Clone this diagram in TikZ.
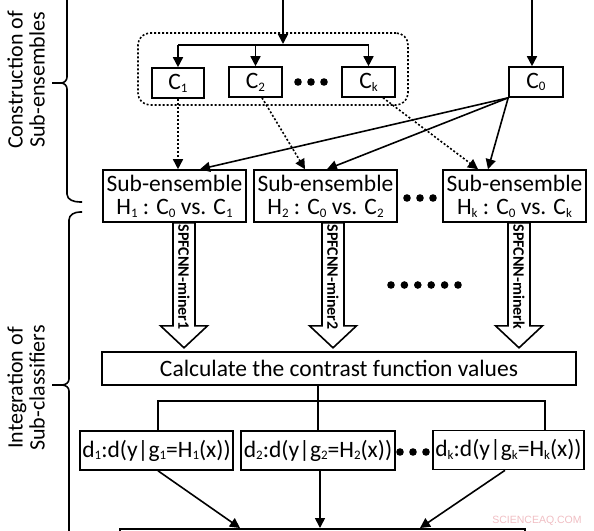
\documentclass[tikz,border=0pt]{standalone}
\usepackage{fontspec}
\setmainfont{Carlito}
\newfontfamily\wmfont{Liberation Sans}
\usetikzlibrary{arrows.meta,calc}
\newcommand\sbs[1]{\raisebox{-0.12em}{\fontsize{13}{13}\selectfont #1}}
\definecolor{wmpink}{RGB}{240,190,195}
\begin{document}
\begin{tikzpicture}[x=1pt,y=-1pt,
  box/.style={draw,line width=1.6pt,inner sep=0pt,font=\fontsize{23.5}{23}\selectfont,align=center},
  conn/.style={line width=1.6pt},
  arr/.style={conn,-{Triangle[length=10pt,width=10pt]}},
  dotarr/.style={arr,dash pattern=on 2pt off 2pt},
  blk/.style={draw,line width=1.6pt,fill=white,line join=miter},
  lbl/.style={font=\fontsize{22}{22}\selectfont,align=center,rotate=90},
  mlbl/.style={font=\fontsize{16}{16}\selectfont\bfseries,rotate=-90,inner sep=0pt},
  brace/.style={line width=1.6pt,line join=round},
  dot/.style={fill=black}]
\useasboundingbox (0,0) rectangle (594,530);

% group of C boxes
\node[draw,line width=1.6pt,dash pattern=on 2pt off 2pt,rounded corners=12pt,minimum width=270pt,minimum height=72pt] (grp) at (273,69) {};
\node[box,minimum width=52pt,minimum height=30pt] (C1) at (178,83) {C\sbs{1}};
\node[box,minimum width=53pt,minimum height=30pt] (C2) at (255.5,82) {C\sbs{2}};
\node[box,minimum width=53pt,minimum height=30pt] (Ck) at (368.5,82) {C\sbs{k}};
\node[box,minimum width=54pt,minimum height=30pt] (C0) at (536,82) {C\sbs{0}};

\coordinate (in1) at (283,-2);
\coordinate (split) at (283,45);
\coordinate (in0) at (532,-2);

% sub-ensembles
\node[box,minimum width=143pt,minimum height=52pt] (H1) at (174.5,196) {Sub-ensemble\\H\sbs{1} : C\sbs{0} vs. C\sbs{1}};
\node[box,minimum width=143pt,minimum height=52pt] (H2) at (325.5,196) {Sub-ensemble\\H\sbs{2} : C\sbs{0} vs. C\sbs{2}};
\node[box,minimum width=143pt,minimum height=52pt] (H3) at (514.5,196) {Sub-ensemble\\H\sbs{k} : C\sbs{0} vs. C\sbs{k}};

% contrast box
\node[box,minimum width=474pt,minimum height=33pt] (calc) at (339,368.5) {Calculate the contrast function values};

% d boxes
\node[box,minimum width=153pt,minimum height=39pt] (d1) at (156.5,450.5) {d\sbs{1}:d(y|g\sbs{1}=H\sbs{1}(x))};
\node[box,minimum width=154pt,minimum height=39pt] (d2) at (318,450.5) {d\sbs{2}:d(y|g\sbs{2}=H\sbs{2}(x))};
\node[box,minimum width=151pt,minimum height=39pt] (dk) at (508.5,450) {d\sbs{k}:d(y|g\sbs{k}=H\sbs{k}(x))};
\coordinate (bus) at (318,401);

% bottom (cut-off) box
\node[box,anchor=north,minimum width=405pt,minimum height=40pt] (fin) at (322.5,528) {};

% top connectors
\draw[arr,shorten >=1pt] (in1) -- (split);
\draw[conn] (C1.north |- split) -- (split -| Ck.north);
\draw[arr] (C1.north |- split) -- (C1.north);
\draw[arr] (C2.north |- split) -- (C2.north);
\draw[arr] (Ck.north |- split) -- (Ck.north);
\draw[arr] (in0) -- (in0 |- C0.north);

% C -> H connectors
\draw[dotarr] (C1.south) -- (C1.south |- H1.north);
\draw[dotarr] ([xshift=6.5pt]C2.south) -- ([xshift=-20.5pt]H2.north);
\draw[dotarr] ([xshift=14.5pt]Ck.south) -- ([xshift=-36.5pt]H3.north);
\draw[arr] (C0.south west) -- ([xshift=25.5pt]H1.north);
\draw[arr] (C0.south west) -- ([xshift=1.5pt]H2.north);
\draw[arr] (C0.south west) -- ([xshift=-26.5pt]H3.north);

% block arrows
\draw[blk] ([xshift=9.5pt]H1.south) ++(-11,0) -- ++(0,103) -- ++(-12.5,0) -- ++(23.5,22) -- ++(23.5,-22) -- ++(-12.5,0) -- ++(0,-103) -- cycle;
\draw[blk] ([xshift=7.5pt]H2.south) ++(-11,0) -- ++(0,103) -- ++(-12.5,0) -- ++(23.5,22) -- ++(23.5,-22) -- ++(-12.5,0) -- ++(0,-103) -- cycle;
\draw[blk] ([xshift=4.5pt]H3.south) ++(-11,0) -- ++(0,103) -- ++(-12.5,0) -- ++(23.5,22) -- ++(23.5,-22) -- ++(-12.5,0) -- ++(0,-103) -- cycle;
\node[mlbl] (m1) at (184,277) {SPFCNN-miner1};
\node[mlbl] (m2) at (333,277) {SPFCNN-miner2};
\node[mlbl] (mk) at (519,277) {SPFCNN-minerk};

% contrast -> d connectors
\draw[conn] (calc.south -| d2.north) -- (d2.north);
\draw[conn] ([xshift=1.5pt]d1.north) |- (bus);
\draw[conn] (bus) -| ([xshift=36.5pt]dk.north);

% d -> bottom
\draw[arr] ([xshift=1.5pt]d1.south) -- ([xshift=-82.5pt]fin.north);
\draw[arr] ([xshift=2pt]d2.south) -- ([xshift=-2.5pt]fin.north);
\draw[arr] ([xshift=-3.5pt]dk.south) -- ([xshift=97.5pt]fin.north);

% dots
\foreach \x in {298,311,324} \fill[dot] (\x,82) circle (3.8pt);
\foreach \x in {407,420,433} \fill[dot] (\x,198) circle (3.8pt);
\foreach \x in {391,404.4,417.8,431.2,444.6,458} \fill[dot] (\x,285) circle (3.8pt);
\foreach \x in {400,413,426} \fill[dot] (\x,452) circle (3.8pt);

% braces
\draw[brace] (67,-2) -- (67,77) to[out=-90,in=0] (61,83) -- (52,83);
\draw[brace] (52,83) -- (61,83) to[out=0,in=90] (67,89) -- (67,194) to[out=-90,in=180] (80,202) -- (82,202);
\draw[brace] (82,212) -- (80,212) to[out=180,in=90] (69,220) -- (69,379) to[out=-90,in=0] (62,385) -- (52,385);
\draw[brace] (52,385) -- (62,385) to[out=0,in=90] (69,391) -- (69,532);

% side labels
\node[lbl] (lab1) at (26,80) {Construction of\\Sub-ensembles};
\node[lbl] (lab2) at (26,388) {Integration of\\Sub-classifiers};

% watermark
\node[font=\wmfont\fontsize{10.5}{10.5}\selectfont,text=wmpink,inner sep=0pt] (wm) at (537,521) {SCIENCEAQ.COM};
\end{tikzpicture}
\end{document}
